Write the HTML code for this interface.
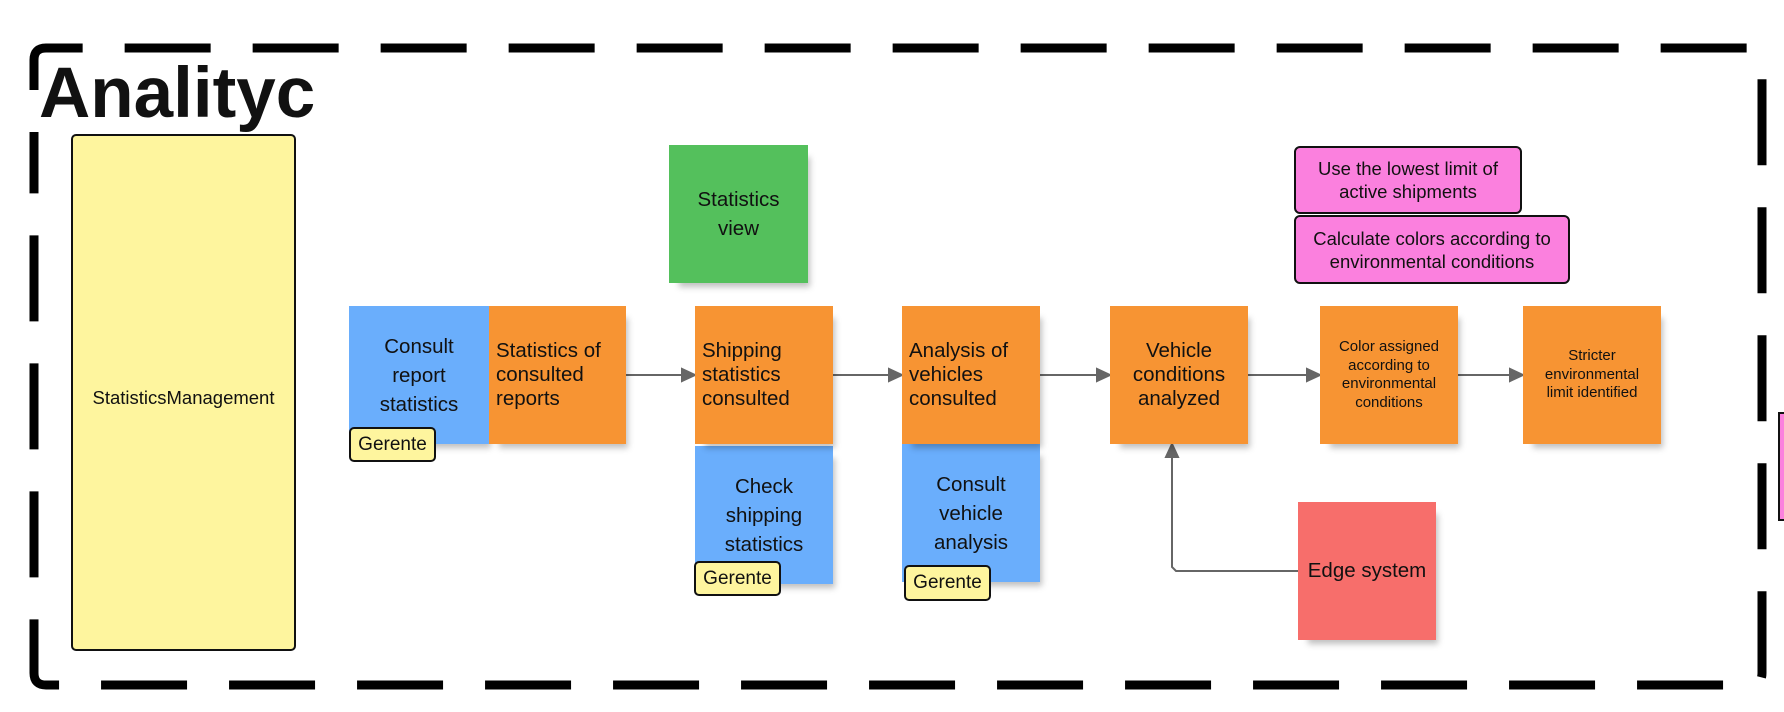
<!DOCTYPE html>
<html><head><meta charset="utf-8"><style>
*{margin:0;padding:0;box-sizing:border-box}
body{width:1784px;height:712px;background:#fff;position:relative;overflow:hidden;font-family:"Liberation Sans",sans-serif;color:#111}
.n{position:absolute;display:flex;align-items:center;justify-content:center;text-align:center;font-size:20.5px;line-height:24px;box-shadow:6px 8px 6px -4px rgba(0,0,0,0.25)}
.l{justify-content:flex-start;text-align:left;padding-left:7px}
.o{background:#f79433}.b{background:#6aaefc}.g{background:#54c05c}.r{background:#f76e6b}
.tag{position:absolute;background:#fef59e;border:2px solid #111;border-radius:5px;font-size:19px;display:flex;align-items:center;justify-content:center}
.p{position:absolute;background:#fb80de;border:2px solid #111;border-radius:6px;display:flex;align-items:center;justify-content:center;text-align:center;font-size:18.5px;line-height:23px}
</style></head><body>
<svg width="1784" height="712" style="position:absolute;left:0;top:0">
<g stroke="#000" stroke-width="9" fill="none">
<path d="M34 150 V60 Q34 48 46 48 H1750 Q1762 48 1762 60 V673 Q1762 685 1750 685 H46 Q34 685 34 673 Z" stroke-dasharray="86 42" stroke-dashoffset="-60"/>
</g>
<g stroke="#666" stroke-width="2" fill="#666">
<line x1="626" y1="375" x2="684" y2="375"/><polygon points="695,375 682,369 682,381"/>
<line x1="833" y1="375" x2="891" y2="375"/><polygon points="902,375 889,369 889,381"/>
<line x1="1040" y1="375" x2="1099" y2="375"/><polygon points="1110,375 1097,369 1097,381"/>
<line x1="1248" y1="375" x2="1309" y2="375"/><polygon points="1320,375 1307,369 1307,381"/>
<line x1="1458" y1="375" x2="1512" y2="375"/><polygon points="1523,375 1510,369 1510,381"/>
<polyline points="1298,571 1176,571 1172,567 1172,456" fill="none"/><polygon points="1172,444 1166,457 1178,457"/>
</g>
</svg>
<div style="position:absolute;left:39px;top:54px;font-size:71px;font-weight:bold;line-height:80px;letter-spacing:0px">Analityc</div>
<div style="position:absolute;left:71px;top:134px;width:225px;height:517px;background:#fef59e;border:2px solid #111;border-radius:5px;display:flex;align-items:center;justify-content:center;font-size:18.5px;padding-bottom:0;padding-top:10px">StatisticsManagement</div>
<div class="n g" style="left:669px;top:145px;width:139px;height:138px;line-height:29px">Statistics<br>view</div>
<div class="n b" style="left:349px;top:306px;width:140px;height:138px;line-height:29px">Consult<br>report<br>statistics</div>
<div class="n o l" style="left:489px;top:306px;width:137px;height:138px">Statistics of<br>consulted<br>reports</div>
<div class="tag" style="left:349px;top:427px;width:87px;height:35px">Gerente</div>
<div class="n b" style="left:695px;top:446px;width:138px;height:138px;line-height:29px">Check<br>shipping<br>statistics</div>
<div class="n o l" style="left:695px;top:306px;width:138px;height:138px">Shipping<br>statistics<br>consulted</div>
<div class="tag" style="left:694px;top:561px;width:87px;height:35px">Gerente</div>
<div class="n b" style="left:902px;top:444px;width:138px;height:138px;line-height:29px">Consult<br>vehicle<br>analysis</div>
<div class="n o l" style="left:902px;top:306px;width:138px;height:138px">Analysis of<br>vehicles<br>consulted</div>
<div class="tag" style="left:904px;top:565px;width:87px;height:36px">Gerente</div>
<div class="n o" style="left:1110px;top:306px;width:138px;height:138px">Vehicle<br>conditions<br>analyzed</div>
<div class="n o" style="left:1320px;top:306px;width:138px;height:138px;font-size:15px;line-height:18.5px">Color assigned<br>according to<br>environmental<br>conditions</div>
<div class="n o" style="left:1523px;top:306px;width:138px;height:138px;font-size:15px;line-height:18.5px">Stricter<br>environmental<br>limit identified</div>
<div class="n r" style="left:1298px;top:502px;width:138px;height:138px">Edge system</div>
<div class="p" style="left:1294px;top:146px;width:228px;height:68px">Use the lowest limit of<br>active shipments</div>
<div class="p" style="left:1294px;top:215px;width:276px;height:69px">Calculate colors according to<br>environmental conditions</div>
<div class="p" style="left:1778px;top:412px;width:30px;height:109px;border-radius:0"></div>
</body></html>
